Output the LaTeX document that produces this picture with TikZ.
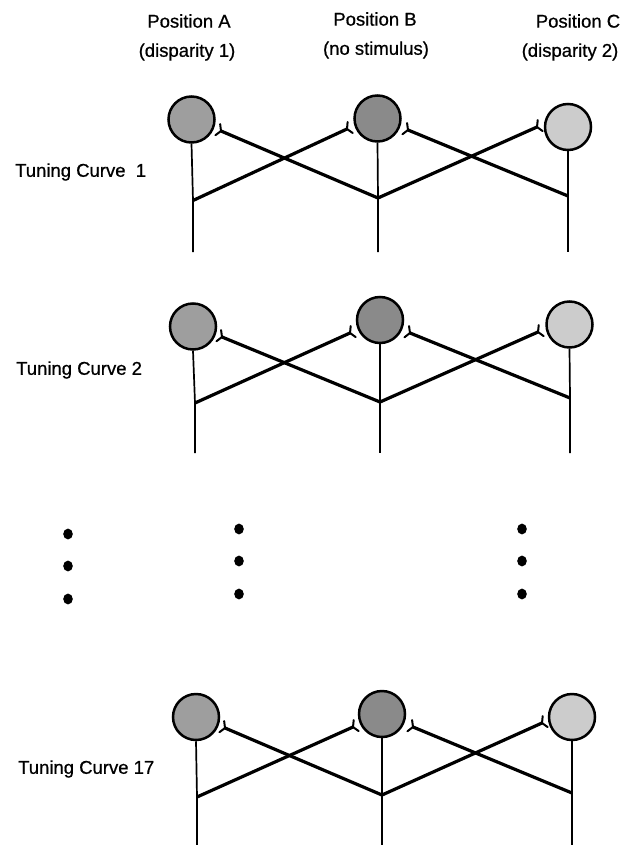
\documentclass[tikz,border=0pt]{standalone}
\usepackage{fontspec}
\setmainfont{Liberation Sans}
\newfontfamily\labfont{Liberation Sans}[FakeBold=0.7]
\usetikzlibrary{calc}
\definecolor{grayA}{gray}{0.62}
\definecolor{grayB}{gray}{0.54}
\definecolor{grayC}{gray}{0.80}
\tikzset{
  cell/.style={circle, draw=black, line width=2.5pt, minimum size=46pt, inner sep=0pt},
  axon/.style={line width=1.7pt},
  cross/.style={line width=3.2pt},
  prong/.style={line width=2pt, line cap=round, line join=round},
  hdr/.style={font=\labfont\fontsize{18.5}{20}\selectfont, inner sep=0pt},
  rowlbl/.style={font=\labfont\fontsize{18.5}{20}\selectfont, inner sep=0pt, anchor=west}
}
\begin{document}
\begin{tikzpicture}[x=1pt,y=-1pt]
\useasboundingbox (0,0) rectangle (627,845);
% headers
\node[hdr] (hA1) at (189,21) {Position A};
\node[hdr] (hA2) at (187,52) {(disparity 1)};
\node[hdr] (hB1) at (375,19) {Position B};
\node[hdr] (hB2) at (376,50) {(no stimulus)};
\node[hdr] (hC1) at (578,21) {Position C};
\node[hdr] (hC2) at (570,52) {(disparity 2)};
% row labels
\node[rowlbl] (l1) at (15,172) {Tuning Curve\ \ 1};
\node[rowlbl] (l2) at (16,370) {Tuning Curve 2};
\node[rowlbl] (l3) at (18,769) {Tuning Curve 17};
\newcommand{\netrow}[9]{%
  % #1 id; #2,#3,#4 circle centres; #5,#6,#7 junctions; #8 bottom y; #9 synapse coordinates
  \node[cell, fill=grayA] (cA#1) at (#2) {};
  \node[cell, fill=grayB] (cB#1) at (#3) {};
  \node[cell, fill=grayC] (cC#1) at (#4) {};
  \coordinate (jA#1) at (#5);
  \coordinate (jB#1) at (#6);
  \coordinate (jC#1) at (#7);
  \coordinate (bA#1) at (jA#1 |- 0,#8);
  \coordinate (bB#1) at (jB#1 |- 0,#8);
  \coordinate (bC#1) at (jC#1 |- 0,#8);
  \draw[axon] (cA#1.south) -- (jA#1) -- (bA#1);
  \draw[axon] (cB#1.south) -- (jB#1) -- (bB#1);
  \draw[axon] (cC#1.south) -- (jC#1) -- (bC#1);
  #9
  \draw[cross] (jA#1) -- (sBl#1);
  \draw[cross] (jB#1) -- (sAr#1);
  \draw[cross] (jB#1) -- (sCl#1);
  \draw[cross] (jC#1) -- (sBr#1);
  \draw[prong] ($(sBl#1)!7pt!120:(jA#1)$) -- (sBl#1) -- ($(sBl#1)!7pt!-120:(jA#1)$);
  \draw[prong] ($(sAr#1)!7pt!120:(jB#1)$) -- (sAr#1) -- ($(sAr#1)!7pt!-120:(jB#1)$);
  \draw[prong] ($(sCl#1)!7pt!120:(jB#1)$) -- (sCl#1) -- ($(sCl#1)!7pt!-120:(jB#1)$);
  \draw[prong] ($(sBr#1)!7pt!120:(jC#1)$) -- (sBr#1) -- ($(sBr#1)!7pt!-120:(jC#1)$);
}
\netrow{1}{191.5,119.5}{377.5,118.5}{568,127}{193,200.5}{378,198}{568,196}{252}{%
  \coordinate (sAr1) at (221,131); \coordinate (sBl1) at (347,129);
  \coordinate (sBr1) at (408,130); \coordinate (sCl1) at (537,127);}
\netrow{2}{193,326.5}{380,320}{569.5,324.5}{195,403}{380,402}{570,398}{453}{%
  \coordinate (sAr2) at (222,337); \coordinate (sBl2) at (350,333);
  \coordinate (sBr2) at (410,333); \coordinate (sCl2) at (538,332);}
\netrow{3}{196,717}{382,714}{572,717}{197,797}{382,795}{572,793}{845}{%
  \coordinate (sAr3) at (225,728); \coordinate (sBl3) at (353,727);
  \coordinate (sBr3) at (413,727); \coordinate (sCl3) at (542,723);}
% ellipsis dots
\foreach \x/\y in {68/534, 68/566, 68/599,
                   239/529, 239/561, 239/594,
                   522/529, 522/561, 522/594}
  \fill (\x,\y) ellipse [x radius=4.8, y radius=5.4];
\end{tikzpicture}
\end{document}
